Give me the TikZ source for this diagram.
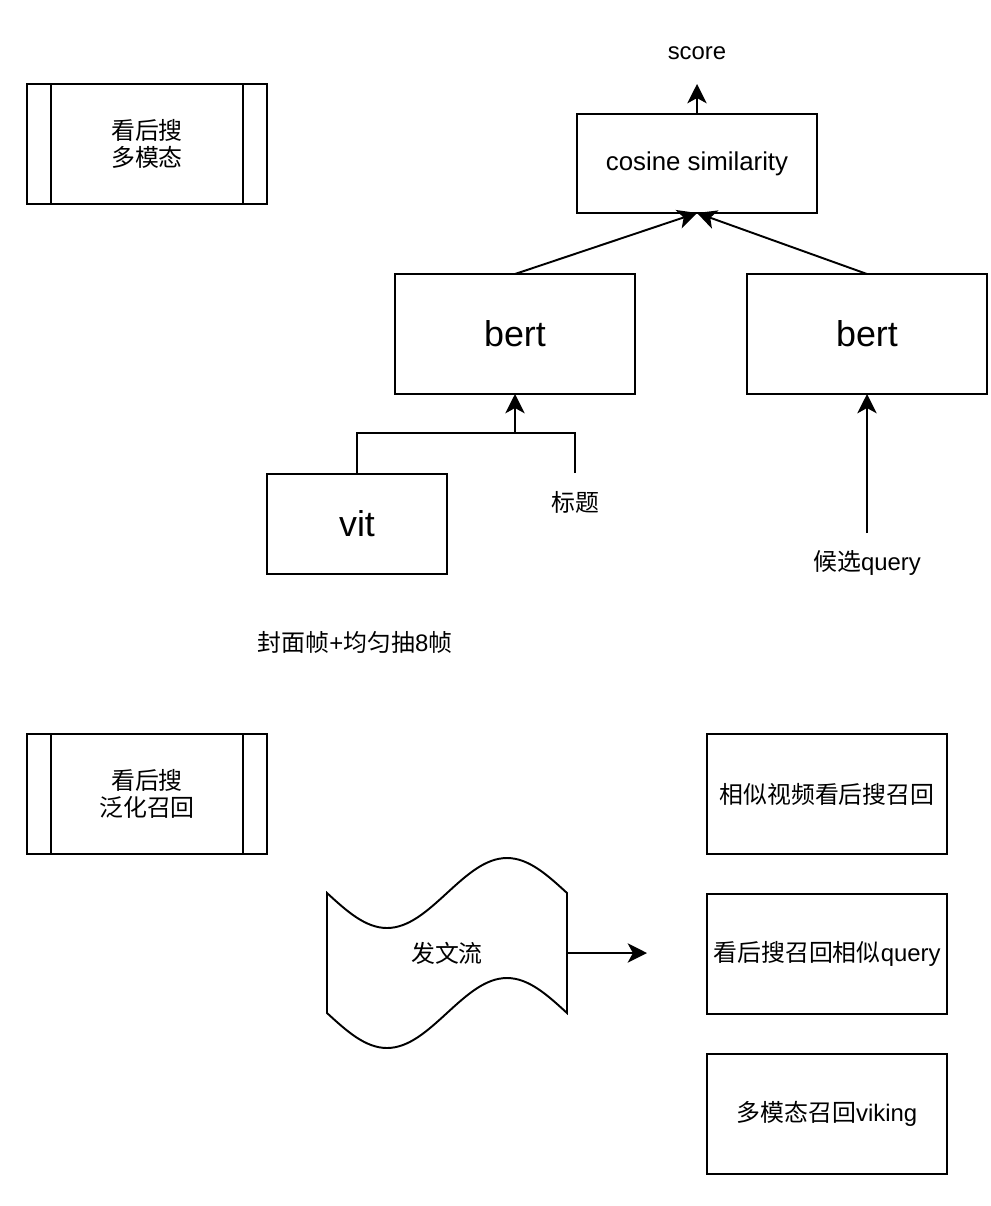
\documentclass[tikz,border=0pt]{standalone}
\usepackage{fontspec}
\setmainfont{Liberation Sans}
\newfontfamily\cjk{Noto Sans CJK SC}
\usetikzlibrary{arrows.meta}
\usetikzlibrary{calc}

\newcommand{\txt}{\fontsize{13.6}{15.3}\selectfont}
\newcommand{\bigtxt}{\fontsize{20.4}{24}\selectfont}

\tikzset{
    line/.style={line width=1.1pt},
    arr/.style={line,-{Stealth[length=11pt,width=11pt,inset=3pt]}},
    box/.style={draw,line,outer sep=0pt,minimum width=4.8cm,minimum height=2.4cm,align=center,font=\txt},
    bigbox/.style={box,font=\bigtxt},
    proc/.style={box,font=\txt\cjk},
    lbl/.style={font=\txt,inner sep=1pt}
}

\begin{document}
\begin{tikzpicture}[x=0.02cm,y=-0.02cm]
    \useasboundingbox (0,0) rectangle (990,1206);

    % top half
    \node[proc] (mm) at (147,144) {看后搜\\多模态};
    \node[box] (cos) at (697,163.5) [minimum height=1.98cm,font=\fontsize{14.7}{17}\selectfont] {cosine similarity};
    \node[lbl] (score) at (697,53) {score};
    \coordinate (scoretip) at (697,84);

    \node[bigbox] (bertL) at (515,334) {bert};
    \node[bigbox] (bertR) at (867,334) {bert};
    \node[bigbox] (vit) at (357,524) [minimum width=3.6cm,minimum height=2cm] {vit};

    \node[lbl] (title) at (575,502) {\cjk 标题};
    \coordinate (titletop) at (575,473);
    \coordinate (join) at (515,433);
    \node[lbl] (cand) at (867,563) {{\cjk 候选}query};
    \coordinate (candtop) at (867,533);
    \node[lbl] (frames) at (355,642) {{\cjk 封面帧}+{\cjk 均匀抽}8{\cjk 帧}};

    \draw[arr] (cos.north) -- (scoretip);
    \draw[arr] (bertL.north) -- (cos.south);
    \draw[arr] (bertR.north) -- (cos.south);
    \draw[arr] (vit.north) |- (join) -- (bertL.south);
    \draw[line] (titletop) |- (join);
    \draw[arr] (candtop) -- (bertR.south);

    % bottom half
    \node[proc] (gen) at (147,794) {看后搜\\泛化召回};

    \draw[line] (327,893) sin (387,928) cos (447,893) sin (507,858) cos (567,893)
        -- (567,1013) sin (507,978) cos (447,1013) sin (387,1048) cos (327,1013) -- cycle;
    \node[lbl] (feed) at (447,953) {\cjk 发文流};
    \coordinate (feedR) at (567,953);
    \coordinate (feedend) at (647,953);
    \draw[arr] (feedR) -- (feedend);

    \node[box] (r1) at (827,794) {\cjk 相似视频看后搜召回};
    \node[box] (r2) at (827,954) {{\cjk 看后搜召回相似}query};
    \node[box] (r3) at (827,1114) {{\cjk 多模态召回}viking};

    \foreach \b in {mm,gen} {
        \draw[line] ([xshift=0.48cm]\b.north west) -- ([xshift=0.48cm]\b.south west);
        \draw[line] ([xshift=-0.48cm]\b.north east) -- ([xshift=-0.48cm]\b.south east);
    }
\end{tikzpicture}
\end{document}
